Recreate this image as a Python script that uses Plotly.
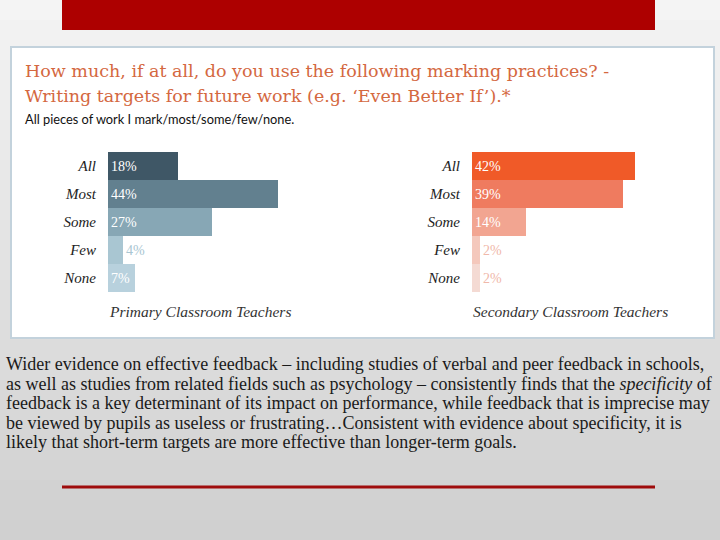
import plotly.graph_objects as go

categories = ['All', 'Most', 'Some', 'Few', 'None']
primary_pct = [18, 44, 27, 4, 7]
secondary_pct = [42, 39, 14, 2, 2]

title_lines = [
    'How much, if at all, do you use the following marking practices? -',
    'Writing targets for future work (e.g. ‘Even Better If’).*',
]
subtitle = 'All pieces of work I mark/most/some/few/none.'
group_names = ['Primary Classroom Teachers', 'Secondary Classroom Teachers']
body_lines = [
    'Wider evidence on effective feedback – including studies of verbal and peer feedback in schools,',
    'as well as studies from related fields such as psychology – consistently finds that the <i>specificity</i> of',
    'feedback is a key determinant of its impact on performance, while feedback that is imprecise may',
    'be viewed by pupils as useless or frustrating…Consistent with evidence about specificity, it is',
    'likely that short-term targets are more effective than longer-term goals.',
]

W, H = 720, 540
px = lambda x: x / W
py = lambda y: 1 - y / H

prim_colors = ['#3f5766', '#62808f', '#87a7b5', '#a9c6d2', '#b8d1dd']
sec_colors = ['#f05a28', '#ef7b5f', '#f2a591', '#f4c8bc', '#f4dad3']
prim_text = ['white', 'white', 'white', '#a9c6d2', 'white']
sec_text = ['white', 'white', 'white', '#f0b8aa', '#f0b8aa']
prim_pos = ['inside', 'inside', 'inside', 'outside', 'inside']
sec_pos = ['inside', 'inside', 'inside', 'outside', 'outside']

serif = 'Liberation Serif'

fig = go.Figure()
fig.add_trace(go.Bar(
    y=categories, x=primary_pct, orientation='h',
    marker=dict(color=prim_colors, line=dict(width=0)),
    texttemplate='%{x}%', textposition=prim_pos,
    insidetextanchor='start', constraintext='none',
    textfont=dict(family=serif, size=14, color=prim_text),
    xaxis='x', yaxis='y', showlegend=False, hoverinfo='skip',
))
fig.add_trace(go.Bar(
    y=categories, x=secondary_pct, orientation='h',
    marker=dict(color=sec_colors, line=dict(width=0)),
    texttemplate='%{x}%', textposition=sec_pos,
    insidetextanchor='start', constraintext='none',
    textfont=dict(family=serif, size=14, color=sec_text),
    xaxis='x2', yaxis='y2', showlegend=False, hoverinfo='skip',
))

# background gradient and frames
shapes = []
n = 27
for i in range(n):
    v = int(244 - (244 - 208) * i / (n - 1))
    shapes.append(dict(type='rect', xref='paper', yref='paper', layer='below',
                       x0=0, x1=1, y0=py((i + 1) * 20), y1=py(i * 20),
                       fillcolor=f'rgb({v},{v},{v})', line=dict(width=0)))
shapes.append(dict(type='rect', xref='paper', yref='paper', layer='below',
                   x0=px(62), x1=px(655), y0=py(30), y1=py(0),
                   fillcolor='#ad0000', line=dict(width=0)))
shapes.append(dict(type='rect', xref='paper', yref='paper', layer='below',
                   x0=px(11), x1=px(714), y0=py(338), y1=py(47),
                   fillcolor='white', line=dict(color='#c3d2dc', width=2)))
shapes.append(dict(type='line', xref='paper', yref='paper',
                   x0=px(62), x1=px(655), y0=py(487), y1=py(487),
                   line=dict(color='#9e0b0b', width=3)))

ann = []
for i, t in enumerate(title_lines):
    ann.append(dict(text=t, x=px(23), y=py(71 + i * 25), xref='paper', yref='paper',
                    xanchor='left', yanchor='middle', showarrow=False,
                    font=dict(family='DejaVu Serif', size=17.5, color='#d4683f')))
ann.append(dict(text=subtitle, x=px(23), y=py(119), xref='paper', yref='paper',
                xanchor='left', yanchor='middle', showarrow=False,
                font=dict(family='Lato', size=12.8, color='#111111')))
for name, x0 in zip(group_names, [107, 471]):
    ann.append(dict(text=name, x=px(x0), y=py(311), xref='paper', yref='paper',
                    xanchor='left', yanchor='middle', showarrow=False,
                    font=dict(family=serif, size=15.5, color='#333333', style='italic')))
for i, t in enumerate(body_lines):
    ann.append(dict(text=t, x=px(4), y=py(364 + i * 19.5), xref='paper', yref='paper',
                    xanchor='left', yanchor='middle', showarrow=False,
                    font=dict(family=serif, size=18, color='#1a1a1a')))

xa = dict(range=[0, 50], visible=False, fixedrange=True)
ya = dict(categoryorder='array', categoryarray=categories, autorange='reversed',
          showline=False, showgrid=False, ticks='', ticklabelstandoff=11, fixedrange=True,
          tickfont=dict(family=serif, size=15, color='#222222', style='italic'))

fig.update_layout(
    width=W, height=H,
    margin=dict(l=0, r=0, t=0, b=0),
    paper_bgcolor='#e4e4e4',
    plot_bgcolor='rgba(0,0,0,0)',
    bargap=0,
    xaxis=dict(xa, domain=[px(108), px(108 + 50 * 3.87)], anchor='y'),
    xaxis2=dict(xa, domain=[px(472), px(472 + 50 * 3.88)], anchor='y2'),
    yaxis=dict(ya, domain=[py(292), py(152)], anchor='x'),
    yaxis2=dict(ya, domain=[py(292), py(152)], anchor='x2'),
    shapes=shapes,
    annotations=ann,
    uniformtext=dict(mode=False),
)

fig.write_html('out.html', config=dict(displayModeBar=False),
               post_script="document.body.style.margin='0';document.body.style.overflow='hidden';")
